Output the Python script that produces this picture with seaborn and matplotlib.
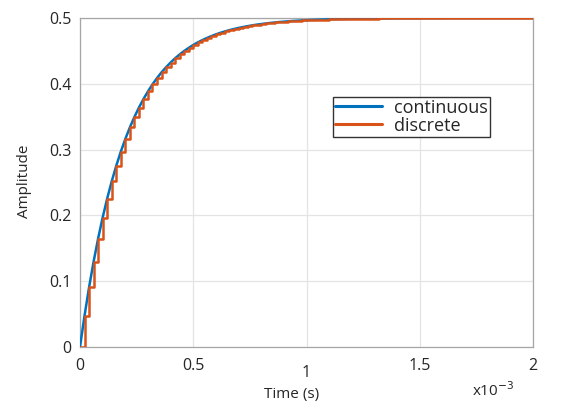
import numpy as np
import pandas as pd
import matplotlib
matplotlib.use("Agg")
import matplotlib.pyplot as plt
import matplotlib.transforms as mtransforms
import seaborn as sns

# sample period 20 us, 0 .. 2 ms
Ts = 2e-5
amplitude = [
    0.0, 0.0476, 0.0906, 0.1296, 0.1648, 0.1967, 0.2256, 0.2517, 0.2753, 0.2967,
    0.3161, 0.3336, 0.3494, 0.3637, 0.3767, 0.3884, 0.3991, 0.4087, 0.4174, 0.4252,
    0.4323, 0.4388, 0.4446, 0.4499, 0.4546, 0.4590, 0.4629, 0.4664, 0.4696, 0.4725,
    0.4751, 0.4775, 0.4796, 0.4816, 0.4833, 0.4849, 0.4863, 0.4876, 0.4888, 0.4899,
    0.4908, 0.4917, 0.4925, 0.4932, 0.4939, 0.4944, 0.4950, 0.4955, 0.4959, 0.4963,
    0.4966, 0.4970, 0.4972, 0.4975, 0.4977, 0.4980, 0.4982, 0.4983, 0.4985, 0.4986,
    0.4988, 0.4989, 0.4990, 0.4991, 0.4992, 0.4992, 0.4993, 0.4994, 0.4994, 0.4995,
    0.4995, 0.4996, 0.4996, 0.4996, 0.4996, 0.4996, 0.4997, 0.4997, 0.4997, 0.4997,
    0.4997, 0.4998, 0.4998, 0.4998, 0.4998, 0.4998, 0.4998, 0.4998, 0.4998, 0.4999,
    0.4999, 0.4999, 0.4999, 0.4999, 0.4999, 0.4999, 0.4999, 0.4999, 0.4999, 0.4999,
    0.4999,
]
time_s = [k * Ts for k in range(len(amplitude))]
x_ticks = [0, 0.5e-3, 1e-3, 1.5e-3, 2e-3]
x_tick_labels = ["0", "0.5", "1", "1.5", "2"]
y_ticks = [0, 0.1, 0.2, 0.3, 0.4, 0.5]
y_tick_labels = ["0", "0.1", "0.2", "0.3", "0.4", "0.5"]

df = pd.DataFrame({"t": time_s, "y": amplitude})

sns.set_style("white")
plt.rcParams["font.family"] = ["Open Sans", "DejaVu Sans"]

fig = plt.figure(figsize=(5.64, 4.05), dpi=100)
ax = fig.add_axes([80 / 564, 1 - 347 / 405, (533 - 80) / 564, (347 - 18) / 405])

blue = "#0072BD"
orange = "#D95319"
sns.lineplot(data=df, x="t", y="y", ax=ax, color=blue, lw=1.8,
             label="continuous", estimator=None, sort=False, zorder=3)
sns.lineplot(data=df, x="t", y="y", ax=ax, color=orange, lw=1.8,
             label="discrete", estimator=None, sort=False,
             drawstyle="steps-post", zorder=4)

ax.set_xlim(0, 2e-3)
ax.set_ylim(0, 0.5)
ax.set_xticks(x_ticks)
ax.set_xticklabels(x_tick_labels)
ax.set_yticks(y_ticks)
ax.set_yticklabels(y_tick_labels)
ax.grid(True, color="#e4e4e4", lw=0.9)
ax.set_axisbelow(True)
for s in ax.spines.values():
    s.set_color("#a6a6a6")
    s.set_linewidth(0.9)
ax.tick_params(axis="both", colors="#262626", labelsize=11.5, length=0)
ax.tick_params(axis="y", pad=6)
ax.tick_params(axis="x", pad=8)
for lbl in ax.get_xticklabels():
    if lbl.get_text() == "1":
        lbl.set_transform(lbl.get_transform() +
                          mtransforms.ScaledTranslation(0, -7 / 100, fig.dpi_scale_trans))

ax.set_xlabel("Time (s)", fontsize=11, color="#262626")
ax.xaxis.set_label_coords(0.5 - 15 / 453, (347 - 387) / 329)
ax.set_ylabel("Amplitude", fontsize=11, color="#262626")
ax.yaxis.set_label_coords((32 - 80) / 453, 0.505)
fig.text(472 / 564, 1 - 391 / 405, "x10$^{-3}$", fontsize=11, color="#262626",
         ha="left", va="center")

leg = ax.legend(loc="upper left", bbox_to_anchor=((333 - 80) / 453, 1 - (97 - 18) / 329),
                frameon=True, fancybox=False, fontsize=13, handlelength=2.6,
                borderpad=0.1, labelspacing=0.0, handletextpad=0.7, borderaxespad=0)
leg.get_frame().set_edgecolor("black")
leg.get_frame().set_linewidth(1.0)
for h in leg.get_lines():
    h.set_linewidth(2.2)

fig.savefig("out.png", dpi=100)
